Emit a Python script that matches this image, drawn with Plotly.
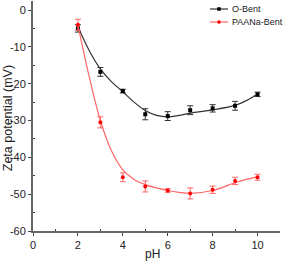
import plotly.graph_objects as go

ph = [2, 3, 4, 5, 6, 7, 8, 9, 10]
obent = [-5.0, -16.8, -22.0, -28.3, -28.8, -27.2, -26.7, -26.0, -22.9]
obent_err = [1.0, 1.2, 0.5, 1.5, 1.2, 1.2, 1.0, 1.2, 0.6]
paana = [-4.0, -30.5, -45.4, -47.9, -49.0, -49.8, -48.8, -46.4, -45.4]
paana_err = [1.5, 1.5, 1.2, 1.5, 0.5, 1.5, 1.0, 1.0, 0.8]

fit_ph = [2, 2.5, 3, 3.5, 4, 4.5, 5, 5.5, 6, 6.5, 7, 8, 9, 9.5, 10]
obent_fit = [-4.5, -11.0, -16.0, -19.5, -22.2, -25.0, -27.3, -28.6, -29.0, -28.6, -28.0, -27.1, -25.9, -24.6, -22.8]
paana_fit = [-4.0, -18.0, -30.0, -38.3, -43.4, -46.0, -47.4, -48.3, -49.0, -49.5, -49.8, -49.0, -46.9, -46.0, -45.3]

x_ticks = [0, 2, 4, 6, 8, 10]
y_ticks = [0, -10, -20, -30, -40, -50, -60]
y_tick_labels = ["0", "-10", "-20", "-30", "-40", "-50", "-60"]

names = ["O-Bent", "PAANa-Bent"]
line_cols = ["#333333", "#ff6666"]
mark_cols = ["#000000", "#ff0000"]
FONT = "Arial, Liberation Sans"

fig = go.Figure()
for vals, errs, fit, nm, lc, mc, sym in [
    (obent, obent_err, obent_fit, names[0], line_cols[0], mark_cols[0], "square"),
    (paana, paana_err, paana_fit, names[1], line_cols[1], mark_cols[1], "circle"),
]:
    fig.add_trace(go.Scatter(x=fit_ph, y=fit, mode="lines", line=dict(color=lc, width=1.2, shape="spline", smoothing=1.0),
                             showlegend=False, hoverinfo="skip"))
    fig.add_trace(go.Scatter(x=ph, y=vals, mode="markers", name=nm, marker=dict(color=mc, size=4, symbol=sym),
                             error_y=dict(type="data", array=errs, color=lc, thickness=1, width=3), showlegend=False))

axis_common = dict(showline=True, linecolor="#666666", linewidth=2, showgrid=False, zeroline=False,
                   automargin=False,
                   tickfont=dict(family=FONT, size=11, color="#222222"),
                   ticks="outside", ticklen=3, tickcolor="#444444", tickwidth=1)
fig.update_xaxes(range=[0, 11], tickvals=x_ticks,
                 minor=dict(tickvals=[1, 3, 5, 7, 9], ticks="inside", ticklen=2, tickcolor="#444444"),
                 **axis_common)
fig.update_yaxes(range=[-60, 2.45], tickvals=y_ticks, ticktext=y_tick_labels,
                 minor=dict(tickvals=[-5, -15, -25, -35, -45, -55], ticks="inside", ticklen=2, tickcolor="#444444"),
                 **axis_common)
fig.add_annotation(text="pH", xref="paper", yref="paper", x=0.485, y=-0.06, xanchor="center", yanchor="top",
                   showarrow=False, font=dict(family=FONT, size=12, color="#222222"))
fig.add_annotation(text="Zeta potential (mV)", xref="paper", yref="paper", x=-0.138, y=0.49, xanchor="left",
                   yanchor="middle", textangle=-90, showarrow=False, font=dict(family=FONT, size=12.5, color="#222222"))

# manual legend (paper coordinates)
def px_x(p):
    return (p - 33) / 247.0

def px_y(p):
    return (231 - p) / 230.0

for i, (nm, lc, mc, sym) in enumerate(zip(names, line_cols, mark_cols, ["square", "circle"])):
    yy = 9 + 13 * i
    fig.add_shape(type="line", xref="paper", yref="paper", x0=px_x(210), x1=px_x(228), y0=px_y(yy), y1=px_y(yy),
                  line=dict(color=lc, width=1.2))
    fig.add_shape(type="rect" if sym == "square" else "circle", xref="paper", yref="paper",
                  x0=px_x(217.5), x1=px_x(220.5), y0=px_y(yy + 1.5), y1=px_y(yy - 1.5),
                  line=dict(color=mc, width=0.5), fillcolor=mc)
    fig.add_annotation(text=nm, xref="paper", yref="paper", x=px_x(230), y=px_y(yy), xanchor="left", yanchor="middle",
                       showarrow=False, font=dict(family=FONT, size=9, color="#222222"))

fig.update_layout(width=283, height=262, margin=dict(l=33, r=3, t=1, b=31),
                  plot_bgcolor="white", paper_bgcolor="white", showlegend=False)
fig.write_html("out.html", config={"displayModeBar": False},
               post_script="document.body.style.margin='0';document.body.style.padding='0';document.body.style.overflow='hidden';")
